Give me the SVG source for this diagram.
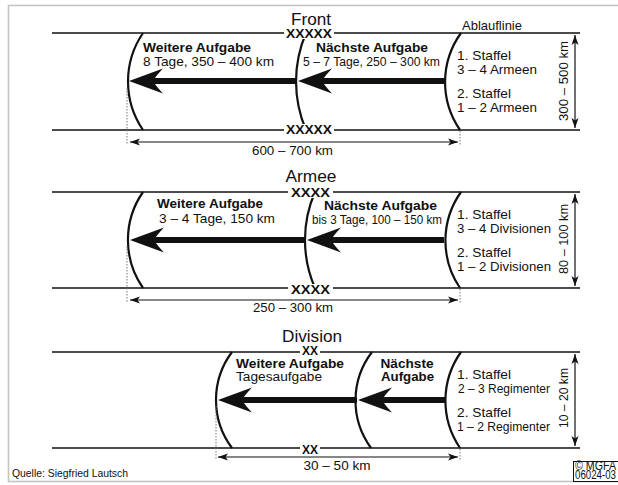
<svg xmlns="http://www.w3.org/2000/svg" width="618" height="485" viewBox="0 0 618 485">
<style>
.t{font-family:"Liberation Sans",Arial,sans-serif;font-size:13px;fill:#111}
.r{font-size:13.5px}
.b{font-weight:bold}
.h{font-size:16px}
.x{font-weight:bold;font-size:12.5px}
.s{font-size:10.4px}
.tight{font-size:12.5px}
.ln{stroke:#111;stroke-width:1.4;fill:none}
.arc{stroke:#111;stroke-width:2.2;fill:none}
.shaft{stroke:#111;stroke-width:6;fill:none}
.dot{stroke:#777;stroke-width:1;stroke-dasharray:1.5 1.5;fill:none}
.dim{stroke:#111;stroke-width:1.2;fill:none;marker-start:url(#da);marker-end:url(#da)}
.mask{fill:#fff}
</style>
<defs>
<marker id="da" viewBox="-10 -4 11 8" refX="0" refY="0" markerWidth="11" markerHeight="8" markerUnits="userSpaceOnUse" orient="auto-start-reverse">
<path d="M0,0 L-10,-3.5 L-7.5,0 L-10,3.5 Z" fill="#111"/>
</marker>
<path id="head" d="M0,0 L34,-12.5 Q27,-5 26,-3 L26,3 Q27,5 34,12.5 Z" fill="#111"/>
</defs>
<rect x="8.5" y="5.5" width="620" height="476" fill="#fff" stroke="#c4c4c4" stroke-width="1.6"/>

<g id="connectors">
<!-- Section 1: Front -->
<path class="ln" d="M52,33 H580 M52,130 H580"/>
<path class="arc" d="M143,33 A86,86 0 0 0 143,130"/>
<path class="arc" d="M306,33 A123,123 0 0 0 306,130"/>
<path class="arc" d="M461,33 A84,84 0 0 0 460,130"/>
<path class="shaft" d="M150,81 H297 M320,81 H445"/>
<use href="#head" x="129" y="81"/>
<use href="#head" x="298" y="81"/>
<path class="dot" d="M127,88 V145 M460,131 V145"/>
<path class="dim" d="M130,142 H458"/>
<path class="dim" d="M575,35 V128"/>
<!-- Section 2: Armee -->
<path class="ln" d="M52,192 H580 M52,288 H580"/>
<path class="arc" d="M143,192 A84,84 0 0 0 143,288"/>
<path class="arc" d="M315,192 A120,120 0 0 0 315,288"/>
<path class="arc" d="M461,192 A84,84 0 0 0 460,288"/>
<path class="shaft" d="M150,240 H306 M330,240 H444"/>
<use href="#head" x="130" y="240"/>
<use href="#head" x="307" y="240"/>
<path class="dot" d="M127,246 V303 M460,289 V303"/>
<path class="dim" d="M130,300 H458"/>
<path class="dim" d="M575,194 V286"/>
<!-- Section 3: Division -->
<path class="ln" d="M52,352 H580 M52,448 H580"/>
<path class="arc" d="M232,352 A80,80 0 0 0 232,448"/>
<path class="arc" d="M372,352 A80,80 0 0 0 371,448"/>
<path class="arc" d="M461,352 A84,84 0 0 0 460,448"/>
<path class="shaft" d="M240,400 H357 M380,400 H445"/>
<use href="#head" x="218" y="400"/>
<use href="#head" x="358" y="400"/>
<path class="dot" d="M216,406 V460 M460,449 V460"/>
<path class="dim" d="M218,457 H458"/>
<path class="dim" d="M575,354 V446"/>
</g>

<g id="front-header">
<text class="t h" x="311" y="25" text-anchor="middle" textLength="40" lengthAdjust="spacingAndGlyphs">Front</text>
<rect class="mask" x="284" y="27" width="50" height="12"/>
<text class="t x" x="309" y="38.3" text-anchor="middle" textLength="46" lengthAdjust="spacingAndGlyphs">XXXXX</text>
<rect class="mask" x="284" y="124" width="50" height="11"/>
<text class="t x" x="309" y="133.5" text-anchor="middle" textLength="46" lengthAdjust="spacingAndGlyphs">XXXXX</text>
</g>
<g id="front-weitere">
<text class="t b" x="143" y="52" textLength="108" lengthAdjust="spacingAndGlyphs">Weitere Aufgabe</text>
<text class="t" x="143" y="65.5" textLength="131" lengthAdjust="spacingAndGlyphs">8 Tage, 350 – 400 km</text>
</g>
<g id="front-naechste">
<text class="t b" x="316" y="52" textLength="112" lengthAdjust="spacingAndGlyphs">Nächste Aufgabe</text>
<text class="t" x="303" y="65.5" textLength="137" lengthAdjust="spacingAndGlyphs">5 – 7 Tage, 250 – 300 km</text>
</g>
<g id="front-staffel">
<text class="t" x="462" y="30" font-size="12.5" textLength="60" lengthAdjust="spacingAndGlyphs">Ablauflinie</text>
<text class="t r" x="457" y="60" textLength="54" lengthAdjust="spacingAndGlyphs">1. Staffel</text>
<text class="t r" x="457" y="73.5" textLength="80" lengthAdjust="spacingAndGlyphs">3 – 4 Armeen</text>
<text class="t r" x="457" y="98" textLength="54" lengthAdjust="spacingAndGlyphs">2. Staffel</text>
<text class="t r" x="457" y="111.5" textLength="80" lengthAdjust="spacingAndGlyphs">1 – 2 Armeen</text>
</g>
<g id="front-dims">
<text class="t r" x="292.5" y="155" text-anchor="middle" textLength="81" lengthAdjust="spacingAndGlyphs">600 – 700 km</text>
<text class="t" font-size="15" transform="translate(568,81) rotate(-90)" text-anchor="middle" textLength="80" lengthAdjust="spacingAndGlyphs">300 – 500 km</text>
</g>

<g id="armee-header">
<text class="t h" x="311" y="182" text-anchor="middle" textLength="51" lengthAdjust="spacingAndGlyphs">Armee</text>
<rect class="mask" x="288" y="186" width="45" height="12"/>
<text class="t x" x="310.5" y="197" text-anchor="middle" textLength="39" lengthAdjust="spacingAndGlyphs">XXXX</text>
<rect class="mask" x="288" y="284" width="45" height="11"/>
<text class="t x" x="310.5" y="294" text-anchor="middle" textLength="39" lengthAdjust="spacingAndGlyphs">XXXX</text>
</g>
<g id="armee-weitere">
<text class="t b" x="157" y="208" textLength="106" lengthAdjust="spacingAndGlyphs">Weitere Aufgabe</text>
<text class="t" x="159" y="223" textLength="116" lengthAdjust="spacingAndGlyphs">3 – 4 Tage, 150 km</text>
</g>
<g id="armee-naechste">
<text class="t b" x="324" y="210" textLength="113" lengthAdjust="spacingAndGlyphs">Nächste Aufgabe</text>
<text class="t" x="312" y="223.5" textLength="130" lengthAdjust="spacingAndGlyphs">bis 3 Tage, 100 – 150 km</text>
</g>
<g id="armee-staffel">
<text class="t r" x="457" y="219" textLength="54" lengthAdjust="spacingAndGlyphs">1. Staffel</text>
<text class="t r" x="457" y="232.5" textLength="94" lengthAdjust="spacingAndGlyphs">3 – 4 Divisionen</text>
<text class="t r" x="457" y="257" textLength="54" lengthAdjust="spacingAndGlyphs">2. Staffel</text>
<text class="t r" x="457" y="270.5" textLength="94" lengthAdjust="spacingAndGlyphs">1 – 2 Divisionen</text>
</g>
<g id="armee-dims">
<text class="t r" x="293" y="312" text-anchor="middle" textLength="80" lengthAdjust="spacingAndGlyphs">250 – 300 km</text>
<text class="t" font-size="15" transform="translate(568,239) rotate(-90)" text-anchor="middle" textLength="70" lengthAdjust="spacingAndGlyphs">80 – 100 km</text>
</g>

<g id="division-header">
<text class="t h" x="312" y="342" text-anchor="middle" textLength="60" lengthAdjust="spacingAndGlyphs">Division</text>
<rect class="mask" x="300" y="346" width="20" height="10"/>
<text class="t x" x="310" y="354.8" text-anchor="middle" font-size="11.5" textLength="16" lengthAdjust="spacingAndGlyphs">XX</text>
<rect class="mask" x="300" y="444" width="20" height="11"/>
<text class="t x" x="310" y="454.3" text-anchor="middle" textLength="16" lengthAdjust="spacingAndGlyphs">XX</text>
</g>
<g id="division-weitere">
<text class="t b tight" x="236" y="368" textLength="108" lengthAdjust="spacingAndGlyphs">Weitere Aufgabe</text>
<text class="t tight" x="236" y="380.5" textLength="86" lengthAdjust="spacingAndGlyphs">Tagesaufgabe</text>
</g>
<g id="division-naechste">
<text class="t b tight" x="407" y="368" text-anchor="middle" textLength="53" lengthAdjust="spacingAndGlyphs">Nächste</text>
<text class="t b tight" x="407.5" y="380.5" text-anchor="middle" textLength="53" lengthAdjust="spacingAndGlyphs">Aufgabe</text>
</g>
<g id="division-staffel">
<text class="t r" x="457" y="379" textLength="54" lengthAdjust="spacingAndGlyphs">1. Staffel</text>
<text class="t r" x="458" y="392.5" textLength="92" lengthAdjust="spacingAndGlyphs">2 – 3 Regimenter</text>
<text class="t r" x="457" y="417" textLength="54" lengthAdjust="spacingAndGlyphs">2. Staffel</text>
<text class="t r" x="457" y="430.5" textLength="93" lengthAdjust="spacingAndGlyphs">1 – 2 Regimenter</text>
</g>
<g id="division-dims">
<text class="t r" x="337" y="470" text-anchor="middle" textLength="67" lengthAdjust="spacingAndGlyphs">30 – 50 km</text>
<text class="t" font-size="15" transform="translate(568,398) rotate(-90)" text-anchor="middle" textLength="60" lengthAdjust="spacingAndGlyphs">10 – 20 km</text>
</g>

<g id="source">
<text class="t s" x="12" y="477" textLength="116" lengthAdjust="spacingAndGlyphs">Quelle: Siegfried Lautsch</text>
</g>
<g id="copyright">
<rect x="573.5" y="461.5" width="60" height="20" fill="#fff" stroke="#111" stroke-width="1"/>
<text class="t" x="575" y="469.8" font-size="9.5" textLength="41" lengthAdjust="spacingAndGlyphs">© MGFA</text>
<text class="t" x="575" y="479.3" font-size="9" textLength="41" lengthAdjust="spacingAndGlyphs">06024-03</text>
</g>
</svg>
